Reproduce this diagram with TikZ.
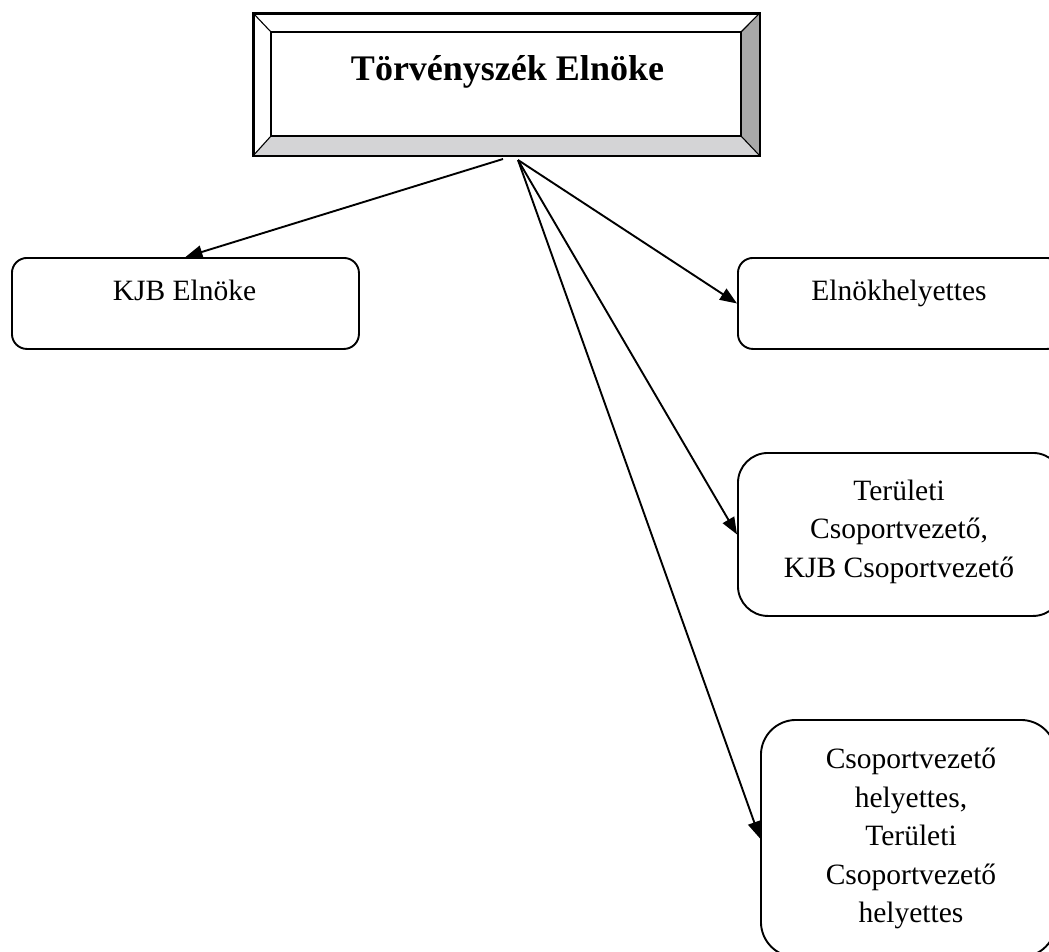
\documentclass[tikz,border=0pt]{standalone}
\usepackage{fontspec}
\setmainfont{Liberation Serif}
\usetikzlibrary{arrows.meta}
\definecolor{bevelside}{RGB}{168,168,168}
\definecolor{bevelbottom}{RGB}{212,212,214}
\tikzset{
  box/.style={draw, line width=1.9pt, rounded corners=#1, inner sep=0pt, anchor=north west},
  box/.default=15pt,
  lbl/.style={font=\fontsize{29.5}{38.6}\selectfont, align=center, inner sep=0pt},
  title/.style={font=\fontsize{36}{40}\selectfont\bfseries, inner sep=0pt, anchor=base},
  conn/.style={line width=1.9pt, -{Triangle[length=17pt,width=13pt]}},
  edge/.style={line width=1.9pt},
  thin edge/.style={line width=1.1pt},
}
\begin{document}
\begin{tikzpicture}[x=1pt,y=-1pt]
\clip (0,0) rectangle (1049,951);

% bevelled title frame
\node (chief) [draw, line width=1.9pt, fill=white, inner sep=0pt, anchor=north west,
  minimum width=505pt, minimum height=141pt] at (253,13) {};
\coordinate (inNW) at (271,32);
\coordinate (inNE) at (741,32);
\coordinate (inSE) at (741,136);
\coordinate (inSW) at (271,136);
\fill[bevelside] (chief.north east) -- (chief.south east) -- (inSE) -- (inNE) -- cycle;
\fill[bevelbottom] (chief.south west) -- (chief.south east) -- (inSE) -- (inSW) -- cycle;
\draw[thin edge] (chief.north west) -- (inNW);
\draw[thin edge] (chief.north east) -- (inNE);
\draw[thin edge] (chief.south east) -- (inSE);
\draw[thin edge] (chief.south west) -- (inSW);
\draw[edge] (inNW) rectangle (inSE);
\draw[edge] (chief.north west) rectangle (chief.south east);
\node (chief-title) [title] at (507.5,80) {Törvényszék Elnöke};

% subordinate boxes
\node (kjb) [box, minimum width=347pt, minimum height=91pt] at (11,257) {};
\node (kjb-text) [lbl, anchor=base] at (184.5,300) {KJB Elnöke};

\node (deputy) [box, minimum width=324pt, minimum height=91pt] at (737,257) {};
\node (deputy-text) [lbl, anchor=base] at (899,300) {Elnökhelyettes};

\node (group) [box=30pt, minimum width=325pt, minimum height=163pt] at (737,452) {};
\node (group-text) [lbl] at (899,531.7) {Területi\\Csoportvezető,\\KJB Csoportvezető};

\node (subgroup) [box=35pt, minimum width=295pt, minimum height=237pt] at (760,719) {};
\node (subgroup-text) [lbl] at (911,838.7) {Csoportvezető\\helyettes,\\Területi\\Csoportvezető\\helyettes};

% connectors
\coordinate (hub) at (518,160);
\coordinate (hub-left) at (503,159);
\draw[conn] (hub-left) -- (kjb.north);
\draw[conn] (hub) -- (deputy.west);
\draw[conn] (hub) -- (group.west);
\draw[conn] (hub) -- (subgroup.west);
\end{tikzpicture}
\end{document}
